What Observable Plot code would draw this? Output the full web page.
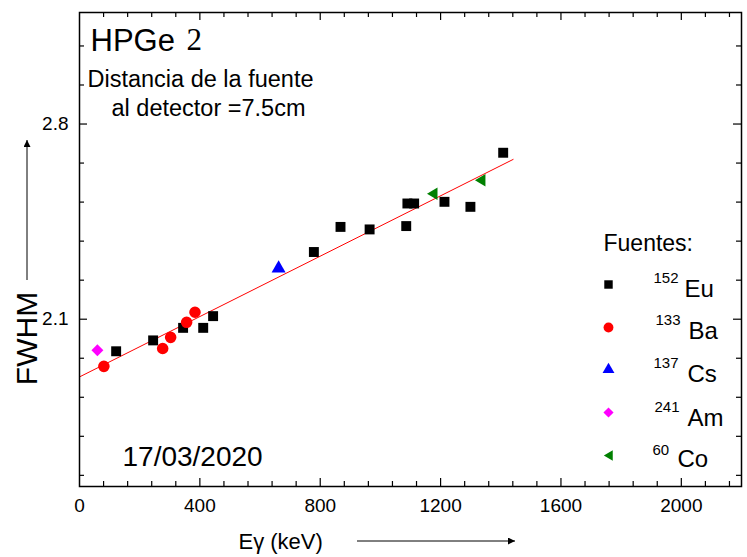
<!DOCTYPE html>
<html><head><meta charset="utf-8">
<script src="https://cdn.jsdelivr.net/npm/d3@7"></script>
<script src="https://cdn.jsdelivr.net/npm/@observablehq/plot@0.6"></script>
<style>
body{margin:0;background:#fff;font-family:"Liberation Sans",Arial,sans-serif}
#chart{width:747px;height:557px}
</style>
</head><body><div id="chart"></div>
<script>
// ---- data ----
const energyEu = [121.8, 244.7, 344.3, 411.1, 444.0, 778.9, 867.4, 964.1, 1085.8, 1089.7, 1112.1, 1212.9, 1299.1, 1408.0];
const fwhmEu   = [1.985, 2.024, 2.069, 2.069, 2.111, 2.341, 2.431, 2.422, 2.434, 2.515, 2.515, 2.521, 2.503, 2.697];
const energyBa = [81.0, 276.4, 302.9, 356.0, 383.8];
const fwhmBa   = [1.931, 1.995, 2.035, 2.089, 2.125];
const energyCs = [661.7];
const fwhmCs   = [2.282];
const energyAm = [59.5];
const fwhmAm   = [1.989];
const energyCo = [1173.2, 1332.5];
const fwhmCo   = [2.550, 2.598];
const fitEnergy = [0, 1441];
const fitFwhm   = [1.893, 2.673];

const xLabelTicks = [0, 400, 800, 1200, 1600, 2000];
const xMinorTicks = [80,160,240,320,480,560,640,720,880,960,1040,1120,1280,1360,1440,1520,1680,1760,1840,1920,2080,2160];
const yLabelTicks = [2.1, 2.8];
const yMinorTicks = [1.54,1.68,1.82,1.96,2.24,2.38,2.52,2.66,2.94,3.08];

const legendTitle = "Fuentes:";
const legendIso  = ["152","133","137","241","60"];
const legendElem = ["Eu","Ba","Cs","Am","Co"];
const titleMain = "HPGe";
const titleNum = "2";
const noteLines = ["Distancia de la fuente", "al detector =7.5cm"];
const dateText = "17/03/2020";
const xTitle = "Eγ (keV)";
const yTitle = "FWHM";

// ---- custom symbols ----
const triLeft = {draw(ctx, size){ const r = Math.sqrt(size/Math.PI); ctx.moveTo(-r*1.1,0); ctx.lineTo(r*1.0,-r*1.25); ctx.lineTo(r*1.0,r*1.25); ctx.closePath(); }};
const diamond = {draw(ctx, size){ const h = Math.sqrt(size/Math.PI)*1.15; ctx.moveTo(0,-h); ctx.lineTo(h,0); ctx.lineTo(0,h); ctx.lineTo(-h,0); ctx.closePath(); }};

const series = [
  {e: energyEu, f: fwhmEu, symbol: "square", fill: "#000000", r: 5.6},
  {e: energyBa, f: fwhmBa, symbol: "circle", fill: "#ff0000", r: 5.8},
  {e: energyCs, f: fwhmCs, symbol: "triangle", fill: "#0000ff", r: 5.2},
  {e: energyAm, f: fwhmAm, symbol: diamond, fill: "#ff00ff", r: 5.2},
  {e: energyCo, f: fwhmCo, symbol: triLeft, fill: "#008000", r: 5.0}
];

const W = 747, H = 557, ML = 79, MR = 6, MT = 12, MB = 71;
const FW = W - ML - MR, FH = H - MT - MB;
const font = "Liberation Sans, Arial, sans-serif";

const marks = [];
marks.push(Plot.line(fitEnergy.map((e,i)=>({e, f: fitFwhm[i]})), {x:"e", y:"f", stroke:"#ff0000", strokeWidth:1}));
series.forEach(s => {
  marks.push(Plot.dot(s.e.map((e,i)=>({e, f: s.f[i]})), {x:"e", y:"f", symbol: ()=>s.symbol, fill: s.fill, stroke:"none", r: s.r}));
});
// inward ticks on all four sides
const majX = xLabelTicks.filter(d=>d>0);
const tk = {stroke:"black", strokeWidth:1.2};
marks.push(Plot.tickX(majX, {x:d=>d, insetTop: FH-8, ...tk}));
marks.push(Plot.tickX(majX, {x:d=>d, insetBottom: FH-8, ...tk}));
marks.push(Plot.tickX(xMinorTicks, {x:d=>d, insetTop: FH-5, ...tk}));
marks.push(Plot.tickX(xMinorTicks, {x:d=>d, insetBottom: FH-5, ...tk}));
marks.push(Plot.tickY(yLabelTicks, {y:d=>d, insetRight: FW-8, ...tk}));
marks.push(Plot.tickY(yLabelTicks, {y:d=>d, insetLeft: FW-8, ...tk}));
marks.push(Plot.tickY(yMinorTicks, {y:d=>d, insetRight: FW-5, ...tk}));
marks.push(Plot.tickY(yMinorTicks, {y:d=>d, insetLeft: FW-5, ...tk}));
marks.push(Plot.frame({stroke:"black", strokeWidth:1.5}));
marks.push(Plot.axisX({ticks: xLabelTicks, tickSize:0, tickPadding:12, fontSize:19, label:null, tickFormat: d=>String(d)}));
marks.push(Plot.axisY({ticks: yLabelTicks, tickSize:0, tickPadding:11, fontSize:19, label:null, tickFormat: d=>d.toFixed(1)}));

// helper for text placed at absolute page position (relative to the frame's top-left corner)
const label = (t, px, py, o={}) => Plot.text([t], {text:d=>d, frameAnchor:"top-left", dx: px-ML, dy: py-MT, textAnchor:"start", lineAnchor:"middle", fill:"black", ...o});

marks.push(label(titleMain, 90, 41, {fontSize:31}));
marks.push(label(titleNum, 186, 40, {fontSize:31, fontFamily:"Liberation Serif, serif"}));
marks.push(label(noteLines[0], 87, 79, {fontSize:23.5}));
marks.push(label(noteLines[1], 111, 108, {fontSize:23.5}));
marks.push(label(dateText, 122, 457, {fontSize:28}));
// legend
marks.push(label(legendTitle, 603, 243, {fontSize:23}));
const rowY = [284, 327, 369, 412, 455];
const supY = [278, 320, 363, 407, 450];
const elY  = [289, 331, 374, 418, 459];
const supX = [653, 655, 653, 654, 652];
const elX  = [684, 688, 687, 687, 677];
series.forEach((s,i) => {
  marks.push(Plot.dot([0], {frameAnchor:"top-left", dx: 608-ML, dy: rowY[i]-MT, symbol: ()=>s.symbol, fill: s.fill, stroke:"none", r: s.r*0.85}));
  marks.push(label(legendIso[i], supX[i], supY[i], {fontSize:15}));
  marks.push(label(legendElem[i], elX[i], elY[i], {fontSize:24}));
});
// axis titles
marks.push(label(xTitle, 238, 541, {fontSize:22}));
marks.push(label(yTitle, 27, 338, {rotate:-90, textAnchor:"middle", fontSize:30}));

const chart = Plot.plot({
  width: W, height: H,
  marginLeft: ML, marginRight: MR, marginTop: MT, marginBottom: MB,
  style: {fontFamily: font, color: "black", background: "white", overflow: "visible"},
  x: {domain: [0, 2200], axis: null},
  y: {domain: [1.5, 3.2], axis: null},
  marks
});
// decorative arrows beside the axis titles
const svg = d3.select(chart);
svg.append("defs").append("marker").attr("id","ah").attr("viewBox","0 0 10 10").attr("refX",10).attr("refY",5)
  .attr("markerWidth",9).attr("markerHeight",7).attr("orient","auto-start-reverse").attr("markerUnits","userSpaceOnUse")
  .append("path").attr("d","M0,0L10,5L0,10z").attr("fill","black");
svg.append("line").attr("x1",357).attr("y1",541).attr("x2",515).attr("y2",541).attr("stroke","black").attr("stroke-width",1).attr("marker-end","url(#ah)");
svg.append("line").attr("x1",27).attr("y1",280).attr("x2",27).attr("y2",140).attr("stroke","black").attr("stroke-width",1).attr("marker-end","url(#ah)");
document.getElementById("chart").appendChild(chart);
</script>
</body></html>
